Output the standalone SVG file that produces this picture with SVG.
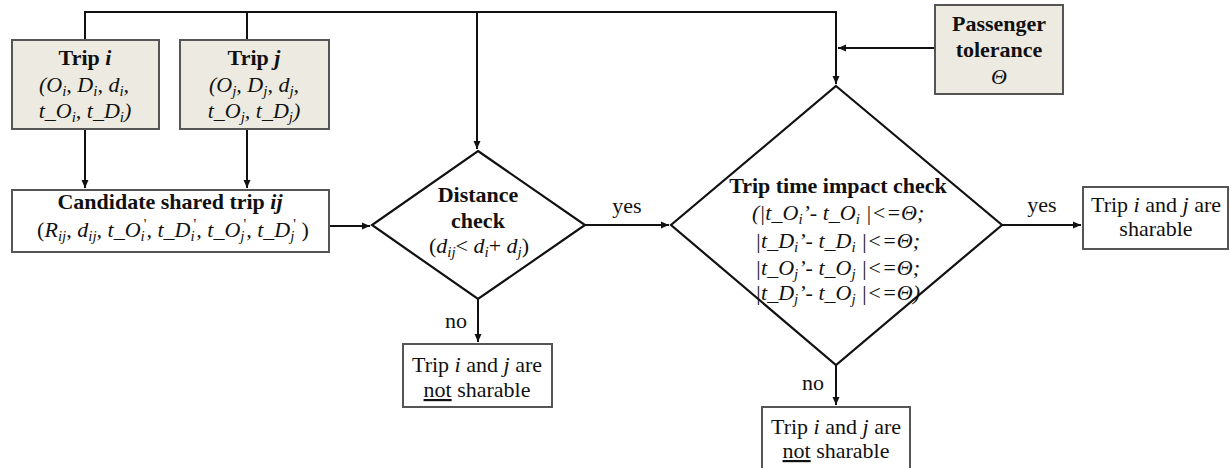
<svg xmlns="http://www.w3.org/2000/svg" width="1230" height="468" viewBox="0 0 1230 468" font-family="'Liberation Serif', 'Times New Roman', serif">
  <style>
    text { font-size: 22px; fill: #111; }
    .b { font-weight: bold; }
    .it { font-style: italic; }
    .sub { font-size: 15px; }
    .input { fill: #edebe1; stroke: #555; stroke-width: 2; }
    .box { fill: #fff; stroke: #555; stroke-width: 2; }
    .dia { fill: #fff; stroke: #111; stroke-width: 2.2; }
    .conn { fill: none; stroke: #111; stroke-width: 2; }
  </style>
  <defs>
    <marker id="arrow" markerUnits="userSpaceOnUse" markerWidth="9" markerHeight="8" refX="8" refY="4" orient="auto">
      <path d="M0,0.5 L8,4 L0,7.5 z" fill="#111"/>
    </marker>
  </defs>

  <rect width="1230" height="468" fill="#fff"/>

  <!-- connectors -->
  <g id="connectors" class="conn">
    <path d="M85,40 V12 H836 V84" marker-end="url(#arrow)"/>
    <path d="M247,12 V40"/>
    <path d="M477,12 V149" marker-end="url(#arrow)"/>
    <path d="M935,48 H838" marker-end="url(#arrow)"/>
    <path d="M85,129 V188" marker-end="url(#arrow)"/>
    <path d="M247,129 V188" marker-end="url(#arrow)"/>
    <path d="M329,226 H370" marker-end="url(#arrow)"/>
    <path d="M585,225 H669" marker-end="url(#arrow)"/>
    <path d="M1002,225 H1081" marker-end="url(#arrow)"/>
    <path d="M478,299 V342" marker-end="url(#arrow)"/>
    <path d="M836,365 V405" marker-end="url(#arrow)"/>
  </g>
  <g id="edge-labels">
    <text x="627" y="213" text-anchor="middle">yes</text>
    <text x="456" y="328" text-anchor="middle">no</text>
    <text x="1042" y="212" text-anchor="middle">yes</text>
    <text x="813" y="390" text-anchor="middle">no</text>
  </g>

  <!-- trip i -->
  <g id="trip-i">
    <rect class="input" x="12" y="40" width="147" height="89"/>
    <text x="85" y="65" text-anchor="middle" class="b" font-size="20.5">Trip <tspan class="it">i</tspan></text>
    <text x="84" y="92" text-anchor="middle" class="it">(O<tspan class="sub" dy="4">i</tspan><tspan dy="-4">, D</tspan><tspan class="sub" dy="4">i</tspan><tspan dy="-4">, d</tspan><tspan class="sub" dy="4">i</tspan><tspan dy="-4">,</tspan></text>
    <text x="85" y="118" text-anchor="middle" class="it">t_O<tspan class="sub" dy="4">i</tspan><tspan dy="-4">, t_D</tspan><tspan class="sub" dy="4">i</tspan><tspan dy="-4">)</tspan></text>
  </g>

  <!-- trip j -->
  <g id="trip-j">
    <rect class="input" x="180" y="40" width="149" height="89"/>
    <text x="254" y="65" text-anchor="middle" class="b" font-size="20.5">Trip <tspan class="it">j</tspan></text>
    <text x="254" y="92" text-anchor="middle" class="it">(O<tspan class="sub" dy="4">j</tspan><tspan dy="-4">, D</tspan><tspan class="sub" dy="4">j</tspan><tspan dy="-4">, d</tspan><tspan class="sub" dy="4">j</tspan><tspan dy="-4">,</tspan></text>
    <text x="254" y="118" text-anchor="middle" class="it">t_O<tspan class="sub" dy="4">j</tspan><tspan dy="-4">, t_D</tspan><tspan class="sub" dy="4">j</tspan><tspan dy="-4">)</tspan></text>
  </g>

  <!-- passenger tolerance -->
  <g id="tolerance">
    <rect class="input" x="935" y="5" width="128" height="89"/>
    <text x="999" y="31" text-anchor="middle" class="b" font-size="22.5">Passenger</text>
    <text x="999" y="57" text-anchor="middle" class="b" font-size="22.5">tolerance</text>
    <text x="999" y="84" text-anchor="middle" class="it">Θ</text>
  </g>

  <!-- candidate shared trip -->
  <g id="candidate">
    <rect class="box" x="12" y="190" width="317" height="62"/>
    <text x="170" y="209" text-anchor="middle" class="b" font-size="23.5">Candidate shared trip <tspan class="it">ij</tspan></text>
    <text x="173" y="237" text-anchor="middle">(<tspan class="it">R</tspan><tspan class="sub it" dy="4">ij</tspan><tspan dy="-4">, </tspan><tspan class="it">d</tspan><tspan class="sub it" dy="4">ij</tspan><tspan dy="-4" class="it">, t_O</tspan><tspan class="sub it" dy="4">i</tspan><tspan class="sub" dy="-12" dx="-1">'</tspan><tspan dy="8" class="it">, t_D</tspan><tspan class="sub it" dy="4">i</tspan><tspan class="sub" dy="-12" dx="-1">'</tspan><tspan dy="8" class="it">, t_O</tspan><tspan class="sub it" dy="4">j</tspan><tspan class="sub" dy="-12" dx="-1">'</tspan><tspan dy="8" class="it">, t_D</tspan><tspan class="sub it" dy="4">j</tspan><tspan class="sub" dy="-12" dx="-1">'</tspan><tspan dy="8"> )</tspan></text>
  </g>

  <!-- distance check -->
  <g id="distance-check">
    <polygon class="dia" points="478,151 585,225 478,299 372,225"/>
    <text x="478" y="202" text-anchor="middle" class="b">Distance</text>
    <text x="478" y="228" text-anchor="middle" class="b">check</text>
    <text x="479" y="253" text-anchor="middle">(<tspan class="it">d</tspan><tspan class="sub it" dy="4">ij</tspan><tspan dy="-4">&lt; </tspan><tspan class="it">d</tspan><tspan class="sub it" dy="4">i</tspan><tspan dy="-4">+ </tspan><tspan class="it">d</tspan><tspan class="sub it" dy="4">j</tspan><tspan dy="-4">)</tspan></text>
  </g>

  <!-- trip time impact check -->
  <g id="time-check">
    <polygon class="dia" points="836,86 1002,225 836,365 671,225"/>
    <text x="838" y="193" text-anchor="middle" class="b" font-size="21.5">Trip time impact check</text>
    <text x="752" y="220" class="it">(|t_O<tspan class="sub" dy="4">i</tspan><tspan dy="-4">’- t_O</tspan><tspan class="sub" dy="4">i</tspan><tspan dy="-4"> |&lt;=Θ;</tspan></text>
    <text x="755" y="248" class="it">|t_D<tspan class="sub" dy="4">i</tspan><tspan dy="-4">’- t_D</tspan><tspan class="sub" dy="4">i</tspan><tspan dy="-4"> |&lt;=Θ;</tspan></text>
    <text x="755" y="275" class="it">|t_O<tspan class="sub" dy="4">j</tspan><tspan dy="-4">’- t_O</tspan><tspan class="sub" dy="4">j</tspan><tspan dy="-4"> |&lt;=Θ;</tspan></text>
    <text x="755" y="300" class="it">|t_D<tspan class="sub" dy="4">j</tspan><tspan dy="-4">’- t_O</tspan><tspan class="sub" dy="4">j</tspan><tspan dy="-4"> |&lt;=Θ)</tspan></text>
  </g>

  <!-- outcomes -->
  <g id="not-sharable-1">
    <rect class="box" x="403" y="344" width="149" height="63"/>
    <text x="477" y="372" text-anchor="middle">Trip <tspan class="it">i</tspan> and <tspan class="it">j</tspan> are</text>
    <text x="477" y="397" text-anchor="middle"><tspan text-decoration="underline">not</tspan> sharable</text>
  </g>
  <g id="not-sharable-2">
    <rect class="box" x="762" y="407" width="148" height="66"/>
    <text x="836" y="434" text-anchor="middle">Trip <tspan class="it">i</tspan> and <tspan class="it">j</tspan> are</text>
    <text x="836" y="458" text-anchor="middle"><tspan text-decoration="underline">not</tspan> sharable</text>
  </g>
  <g id="sharable">
    <rect class="box" x="1083" y="187" width="145" height="62"/>
    <text x="1156" y="212" text-anchor="middle">Trip <tspan class="it">i</tspan> and <tspan class="it">j</tspan> are</text>
    <text x="1156" y="236" text-anchor="middle">sharable</text>
  </g>
</svg>
